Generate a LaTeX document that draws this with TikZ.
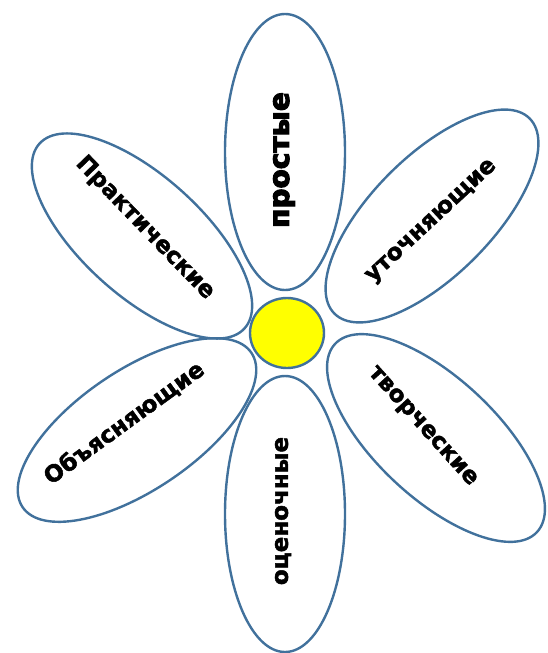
\documentclass[tikz,border=0pt]{standalone}
\usepackage{fontspec}
\usepackage{tikz}
\usetikzlibrary{shapes.geometric}
\newfontfamily\petalfont{DejaVu Sans Bold}[FakeBold=2]
\newfontfamily\heavyfont{DejaVu Sans Bold}[FakeBold=4]
\definecolor{petalblue}{HTML}{41719C}
\definecolor{core}{HTML}{FFFF00}

\begin{document}
\begin{tikzpicture}[x=1pt, y=-1pt,
  petal/.style={ellipse, draw=petalblue, line width=2.4pt, inner sep=0pt,
    minimum width=276pt, minimum height=120pt},
  bigword/.style={inner sep=0pt, font=\heavyfont\fontsize{28}{28}\selectfont},
  word/.style={inner sep=0pt, font=\petalfont\fontsize{23}{23}\selectfont}]
  \useasboundingbox (0,0) rectangle (547,653);

  % лепестки
  \node[petal, rotate=90]  (top)    at (285,152) {};
  \node[petal, rotate=90]  (bottom) at (285,514) {};
  \node[petal, rotate=-42] (ul)     at (142,236) {};
  \node[petal, rotate=45]  (ur)     at (432,216) {};
  \node[petal, rotate=34]  (ll)     at (137,430) {};
  \node[petal, rotate=-43] (lr)     at (436,438) {};

  % середина
  \node[ellipse, draw=petalblue, line width=2.4pt, fill=core,
    minimum width=74pt, minimum height=70pt, inner sep=0pt] (mid) at (287,333) {};

  % подписи
  \node[bigword, rotate=90]  (t1) at (284,160) {простые};
  \node[word, rotate=90]     (t2) at (283,511) {оценочные};
  \node[word, rotate=-46]    (t3) at (145,228) {Практические};
  \node[word, rotate=43]     (t4) at (432,222) {уточняющие};
  \node[word, rotate=36]     (t5) at (124,423) {Объясняющие};
  \node[word, rotate=-48]    (t6) at (422,427) {творческие};
\end{tikzpicture}
\end{document}
